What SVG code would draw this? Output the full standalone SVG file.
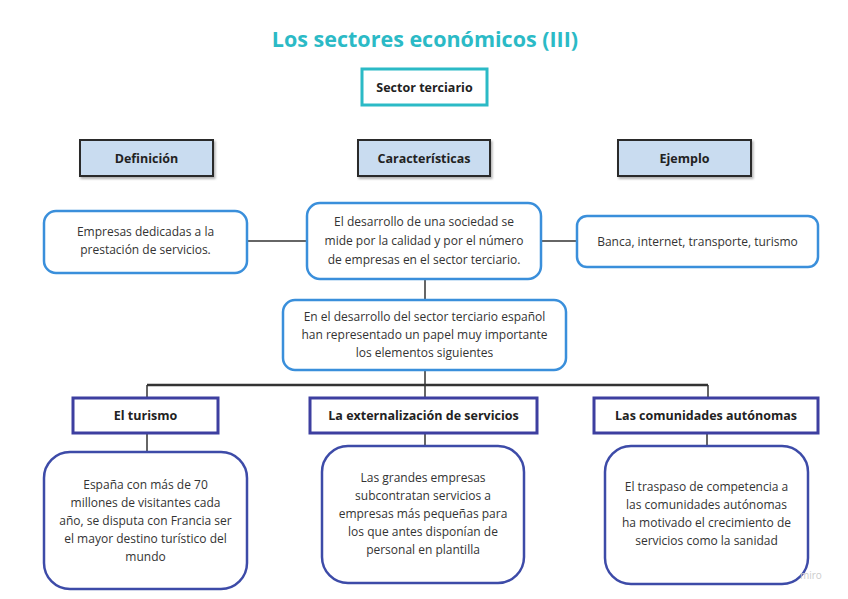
<svg xmlns="http://www.w3.org/2000/svg" width="848" height="599" viewBox="0 0 848 599">
<defs>
<style>
.t{font-family:"Open Sans","Noto Sans",sans-serif;text-anchor:middle;fill:#333}
.b{font-size:12px}
.h{font-size:12.5px;font-weight:bold;fill:#222}
.blue{fill:#fff;stroke:#3A8FDB;stroke-width:2.5}
.dk{fill:#fff;stroke:#3D4BA8;stroke-width:2.5}
.hd{fill:#C9DCF0;stroke:#2a2a2a;stroke-width:2}
.sec{fill:#fff;stroke:#3D3FA0;stroke-width:3}
.ln{stroke:#333;stroke-width:1.5;fill:none}
</style>
<filter id="sh" x="-10%" y="-10%" width="130%" height="140%"><feDropShadow dx="1.5" dy="2" stdDeviation="1.2" flood-color="#000" flood-opacity="0.3"/></filter>
</defs>
<rect width="848" height="599" fill="#fff"/>
<text class="t" x="425" y="47" style="font-size:21.5px;font-weight:bold;fill:#2BBAC6">Los sectores económicos (III)</text>

<g id="connectors">
<line class="ln" x1="247" y1="241" x2="307" y2="241"/>
<line class="ln" x1="541" y1="241" x2="577" y2="241"/>
<line class="ln" x1="425" y1="279" x2="425" y2="300"/>
<line class="ln" x1="425" y1="370" x2="425" y2="398"/>
<line class="ln" x1="147" y1="385" x2="708" y2="385" style="stroke-width:2.5"/>
<line class="ln" x1="147" y1="385" x2="147" y2="398"/>
<line class="ln" x1="708" y1="385" x2="708" y2="398"/>
<line class="ln" x1="147" y1="433" x2="147" y2="452"/>
<line class="ln" x1="425" y1="433" x2="425" y2="446"/>
<line class="ln" x1="707" y1="433" x2="707" y2="447"/>
</g>

<g id="sector-terciario">
<rect x="362" y="69" width="125" height="36" fill="#fff" stroke="#2BBAC6" stroke-width="3"/>
<text class="t h" x="424.5" y="92">Sector terciario</text>
</g>

<g id="definicion">
<rect class="hd" x="80" y="140" width="133" height="36" filter="url(#sh)"/>
<text class="t h" x="146.5" y="163">Definición</text>
</g>
<g id="caracteristicas">
<rect class="hd" x="358" y="140" width="132" height="36" filter="url(#sh)"/>
<text class="t h" x="424" y="163">Características</text>
</g>
<g id="ejemplo">
<rect class="hd" x="618" y="140" width="133" height="36" filter="url(#sh)"/>
<text class="t h" x="684.5" y="163">Ejemplo</text>
</g>

<g id="def-text">
<rect class="blue" x="44" y="211" width="203" height="62" rx="12"/>
<text class="t b" x="145.5" y="236">Empresas dedicadas a la</text>
<text class="t b" x="145.5" y="254">prestación de servicios.</text>
</g>
<g id="car-text">
<rect class="blue" x="307" y="203" width="234" height="76" rx="13"/>
<text class="t b" x="424" y="226">El desarrollo de una sociedad se</text>
<text class="t b" x="424" y="245">mide por la calidad y por el número</text>
<text class="t b" x="424" y="264">de empresas en el sector terciario.</text>
</g>
<g id="ej-text">
<rect class="blue" x="577" y="216" width="241" height="51" rx="10"/>
<text class="t b" x="697.5" y="246">Banca, internet, transporte, turismo</text>
</g>

<g id="desarrollo">
<rect class="blue" x="283" y="300" width="283" height="70" rx="12"/>
<text class="t b" x="424.5" y="321">En el desarrollo del sector terciario español</text>
<text class="t b" x="424.5" y="339">han representado un papel muy importante</text>
<text class="t b" x="424.5" y="357">los elementos siguientes</text>
</g>

<g id="turismo">
<rect class="sec" x="73" y="398" width="145" height="35"/>
<text class="t h" x="145.5" y="420">El turismo</text>
</g>
<g id="externalizacion">
<rect class="sec" x="310" y="398" width="227" height="35"/>
<text class="t h" x="423.5" y="420">La externalización de servicios</text>
</g>
<g id="comunidades">
<rect class="sec" x="594" y="398" width="224" height="35"/>
<text class="t h" x="706" y="420">Las comunidades autónomas</text>
</g>

<g id="turismo-text">
<rect class="dk" x="44" y="452" width="203" height="137" rx="26"/>
<text class="t b" x="145.5" y="489">España con más de 70</text>
<text class="t b" x="145.5" y="507">millones de visitantes cada</text>
<text class="t b" x="145.5" y="525">año, se disputa con Francia ser</text>
<text class="t b" x="145.5" y="543">el mayor destino turístico del</text>
<text class="t b" x="145.5" y="561">mundo</text>
</g>
<g id="externalizacion-text">
<rect class="dk" x="322" y="446" width="202" height="137" rx="26"/>
<text class="t b" x="423" y="482">Las grandes empresas</text>
<text class="t b" x="423" y="500">subcontratan servicios a</text>
<text class="t b" x="423" y="518">empresas más pequeñas para</text>
<text class="t b" x="423" y="536">los que antes disponían de</text>
<text class="t b" x="423" y="554">personal en plantilla</text>
</g>
<g id="comunidades-text">
<rect class="dk" x="605" y="446" width="203" height="138" rx="26"/>
<text class="t b" x="706.5" y="491">El traspaso de competencia a</text>
<text class="t b" x="706.5" y="509">las comunidades autónomas</text>
<text class="t b" x="706.5" y="527">ha motivado el crecimiento de</text>
<text class="t b" x="706.5" y="545">servicios como la sanidad</text>
</g>
<text x="800" y="579" style="font-family:'Open Sans',sans-serif;font-size:10px;fill:#ccc">miro</text>
</svg>
